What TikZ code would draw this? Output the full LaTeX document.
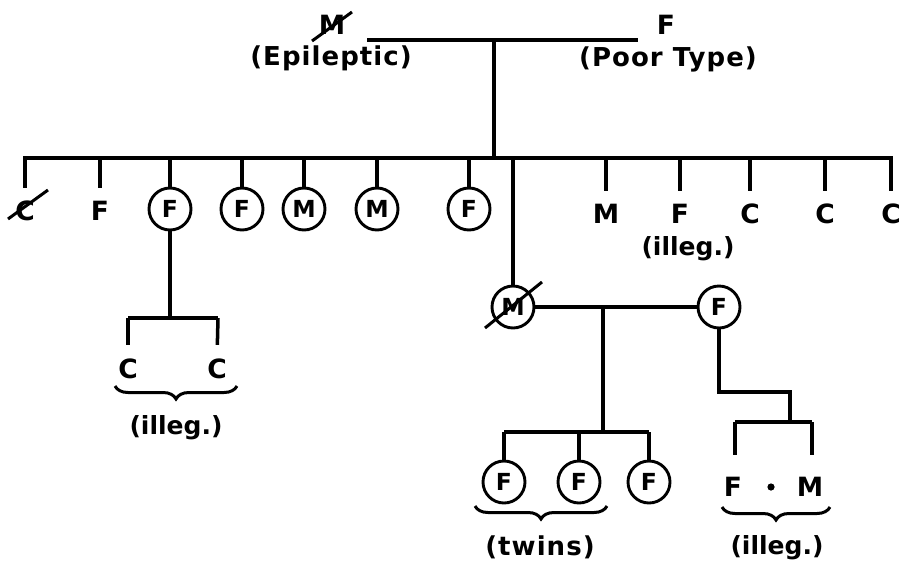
\documentclass[tikz,border=0pt]{standalone}
\usepackage{fontspec}
\setmainfont{DejaVu Sans}
\newfontfamily\notefont[LetterSpace=4]{DejaVu Sans}
\usetikzlibrary{decorations.pathreplacing}
\begin{document}
\begin{tikzpicture}[x=1pt,y=-1pt,
  ln/.style={line width=3.5pt},
  lbl/.style={font=\bfseries\fontsize{26.5}{28}\selectfont, inner sep=0pt},
  note/.style={font=\notefont\bfseries\fontsize{26}{28}\selectfont, inner sep=0pt},
  note2/.style={font=\bfseries\fontsize{25}{27}\selectfont, inner sep=0pt},
  pers/.style={circle, draw, line width=2.9pt, minimum size=42pt, inner sep=0pt, font=\bfseries\fontsize{23.5}{25}\selectfont},
  br/.style={decorate, decoration={brace, mirror, amplitude=13pt}, line width=3pt},
  cross/.style={line width=3pt}
]
\useasboundingbox (0,0) rectangle (902,563);

% grandparents
\node[lbl] (gm) at (332,25) {M};
\node[note] (gmn) at (331,58) {(Epileptic)};
\node[lbl] (gf) at (666,25) {F};
\node[note] (gfn) at (668,59) {(Poor Type)};
\coordinate (mL) at (367,40);
\coordinate (mR) at (638,40);
\coordinate (mD) at (494,40);
\coordinate (sibT) at (494,158);
\coordinate (sL) at (23,158);
\coordinate (sR) at (893,158);
\draw[ln] (mL) -- (mR);
\draw[ln] (mD) -- (sibT);
\draw[ln] (sL) -- (sR);
\draw[cross] (312,41) -- (352,12);

% children row
\node[lbl] (c1) at (25,211) {C};
\node[lbl] (c2) at (100,211) {F};
\node[pers] (c3) at (170,209) {F};
\node[pers] (c4) at (242,209) {F};
\node[pers] (c5) at (304,209) {M};
\node[pers] (c6) at (377,209) {M};
\node[pers] (c7) at (469,209) {F};
\node[lbl] (c9) at (606,214) {M};
\node[lbl] (c10) at (680,214) {F};
\node[note2] (c10n) at (688,249) {(illeg.)};
\node[lbl] (c11) at (750,214) {C};
\node[lbl] (c12) at (825,214) {C};
\node[lbl] (c13) at (891,214) {C};
\draw[cross] (8,219) -- (48,190);

\foreach \n in {c1,c2} \draw[ln, shorten >=13pt] (\n |- sL) -- (\n.north);
\foreach \n in {c3,c4,c5,c6,c7} \draw[ln] (\n |- sL) -- (\n.north);
\foreach \n in {c9,c10,c11,c12,c13} \draw[ln, shorten >=13pt] (\n |- sL) -- (\n.north);

% left branch
\coordinate (lb) at (170,318);
\coordinate (lbL) at (128,318);
\coordinate (lbR) at (218,318);
\node[lbl] (lc1) at (128,369) {C};
\node[lbl] (lc2) at (217,369) {C};
\draw[ln] (c3.south) -- (lb);
\draw[ln] (lbL) -- (lbR);
\draw[ln, shorten >=14pt] (lbL) -- (lc1.north);
\draw[ln, shorten >=14pt] (lbR) -- (lc2.north);
\draw[br] (115,386) -- (237,386);
\node[note2] (lnote) at (176,428) {(illeg.)};

% middle family
\node[pers] (sm) at (513,307) {M};
\node[pers] (sw) at (719,307) {F};
\draw[ln] (sm |- sL) -- (sm.north);
\draw[ln] (sm.east) -- (sw.west);
\draw[cross] (485,328) -- (542,282);
\coordinate (mm) at (603,307);
\coordinate (tb) at (603,432);
\coordinate (tbL) at (504,432);
\coordinate (tbR) at (649,432);
\draw[ln] (mm) -- (tb);
\draw[ln] (tbL) -- (tbR);
\node[pers] (t1) at (504,482) {F};
\node[pers] (t2) at (579,482) {F};
\node[pers] (t3) at (649,482) {F};
\foreach \n in {t1,t2,t3} \draw[ln] (\n |- tbL) -- (\n.north);
\draw[br] (475,506) -- (607,506);
\node[note] (tnote) at (540,547) {(twins)};

% wife's illegitimate children
\coordinate (w1) at (719,392);
\coordinate (w2) at (790,392);
\coordinate (w3) at (790,422);
\coordinate (wbL) at (735,422);
\coordinate (wbR) at (812,422);
\node[lbl] (wc1) at (733,487) {F};
\node[lbl] (wc2) at (810,487) {M};
\draw[ln] (sw.south) -- (w1) -- (w2) -- (w3);
\draw[ln] (wbL) -- (wbR);
\draw[ln, shorten >=22pt] (wbL) -- (wbL |- wc1.north);
\draw[ln, shorten >=22pt] (wbR) -- (wbR |- wc2.north);
\fill (771,487) circle (3.6pt);
\draw[br] (722,507) -- (830,507);
\node[note2] (wnote) at (777,548) {(illeg.)};
\end{tikzpicture}
\end{document}
